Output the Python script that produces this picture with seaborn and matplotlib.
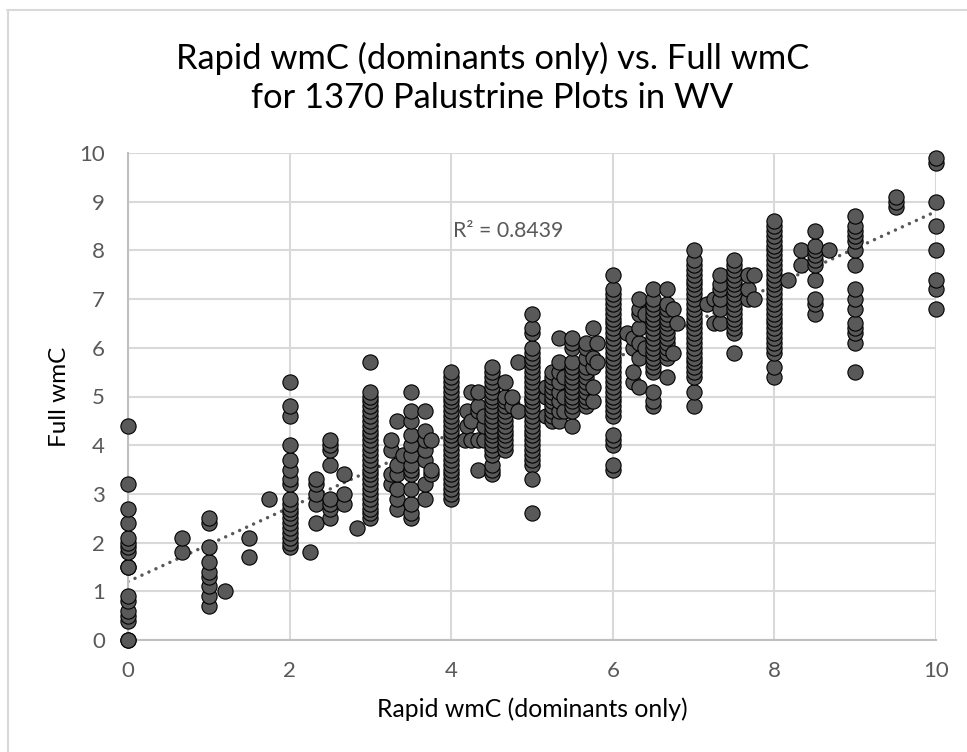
import numpy as np
import pandas as pd
import seaborn as sns
import matplotlib
matplotlib.use("Agg")
import matplotlib.pyplot as plt
from matplotlib.lines import Line2D

def r(a, b):
    # list of one-decimal wmC readings from a to b inclusive
    return [round(v / 10, 1) for v in range(int(a * 10 + .5), int(b * 10 + .5) + 1)]

columns = {
    0.0: [0, 0, .4, .5, .6, .8, .9, 1.5, 1.5, 1.8, 1.9, 2.0, 2.1, 2.4, 2.7, 3.2, 4.4],
    0.67: [1.8, 2.1],
    1.0: [.7, .9, 1.1, 1.3, 1.4, 1.6, 1.9, 2.4, 2.5],
    1.2: [1.0],
    1.5: [1.7, 2.1],
    1.75: [2.9],
    2.0: r(1.9, 2.9) + [3.2, 3.3, 3.5, 3.7, 4.0, 4.6, 4.8, 5.3],
    2.25: [1.8],
    2.33: [2.4, 2.8, 3.0, 3.2, 3.3],
    2.5: [2.5, 2.7, 2.8, 2.9, 3.6, 3.9, 4.0, 4.1],
    2.67: [2.8, 3.0, 3.4],
    2.83: [2.3],
    3.0: r(2.5, 5.1) + [5.7],
    3.25: [3.2, 3.4, 3.9, 4.1],
    3.33: [2.7, 2.9, 3.1, 3.4, 3.6, 4.5],
    3.4: [3.8],
    3.5: [2.5, 2.6, 2.8, 3.1, 3.4, 3.5, 3.6, 3.8, 4.0, 4.2, 4.5, 4.7, 5.1],
    3.67: [2.9, 3.2, 3.7, 3.9, 4.1, 4.3, 4.7],
    3.75: [3.4, 3.5, 4.1],
    4.0: r(2.9, 5.5),
    4.17: [4.1],
    4.2: [4.4, 4.7],
    4.25: [4.1, 4.5, 5.1],
    4.33: [3.5, 4.1, 4.7, 4.8, 5.1],
    4.4: [4.1, 4.4, 4.6],
    4.5: [3.4, 3.5, 3.6] + r(3.8, 5.6),
    4.67: r(3.9, 5.0) + [5.3],
    4.75: [4.8, 5.0],
    4.83: [4.7, 5.7],
    5.0: r(3.6, 6.0) + [2.6, 3.3, 6.3, 6.4, 6.7],
    5.17: [4.6, 5.0, 5.2],
    5.25: r(4.5, 5.5),
    5.33: [4.5, 4.7, 4.9, 5.1, 5.3, 5.5, 5.7, 6.2],
    5.4: [4.7, 5.0, 5.4],
    5.5: [4.4] + r(4.7, 5.7) + [6.0, 6.1, 6.2],
    5.67: r(4.8, 5.6) + [5.8, 6.0, 6.1],
    5.75: [4.9, 5.2, 5.6, 5.8, 6.4],
    5.8: [5.7, 6.1],
    6.0: [3.5, 3.6, 4.0, 4.1, 4.2] + r(4.6, 7.2) + [7.5],
    6.17: [6.3],
    6.25: [5.3, 5.5, 6.0, 6.2],
    6.33: [5.2, 5.8, 6.1, 6.4, 6.7, 6.8, 7.0],
    6.4: [6.0, 6.7],
    6.5: [4.8, 4.9, 5.1] + r(5.5, 7.0) + [7.2],
    6.67: [5.4] + r(5.8, 6.9) + [7.2],
    6.75: [5.9, 6.8],
    6.8: [6.5],
    7.0: [4.8, 5.1] + r(5.4, 7.7) + [7.8, 8.0],
    7.17: [6.9],
    7.25: [6.5, 7.0],
    7.33: [6.5, 6.8, 7.0, 7.2, 7.3, 7.5],
    7.5: [5.9] + r(6.3, 7.8),
    7.67: [7.0, 7.2, 7.5],
    7.75: [7.0, 7.5],
    8.0: [5.4, 5.6] + r(5.9, 8.6),
    8.17: [7.4],
    8.33: [7.7, 8.0],
    8.5: [6.7, 6.9, 7.0, 7.4, 7.7, 7.8, 7.9, 8.0, 8.1, 8.4],
    8.67: [8.0],
    9.0: [5.5, 6.1, 6.3, 6.4, 6.5, 6.8, 7.0, 7.2, 7.7, 8.0, 8.2, 8.3, 8.4, 8.5, 8.7],
    9.5: [8.9, 9.0, 9.1],
    10.0: [6.8, 7.2, 7.4, 8.0, 8.5, 9.0, 9.8, 9.9],
}

trend_x = [0, 10]
trend_y = [1.2, 8.8]

rapid = [x for x, ys in columns.items() for _ in ys]
full = [y for ys in columns.values() for y in ys]
df = pd.DataFrame({"rapid": rapid, "full": full})

title = "Rapid wmC (dominants only) vs. Full wmC\nfor 1370 Palustrine Plots in WV"
x_label = "Rapid wmC (dominants only)"
y_label = "Full wmC"
r2_label = "R² = 0.8439"
x_ticks = [0, 2, 4, 6, 8, 10]
y_ticks = list(range(0, 11))

sns.set_theme(style="whitegrid")
plt.rcParams["font.family"] = ["Lato", "DejaVu Sans"]

W, H = 967, 752
fig = plt.figure(figsize=(W / 100, H / 100), dpi=100, facecolor="white")
ax = fig.add_axes([128 / W, 1 - 640 / H, (936 - 128) / W, (640 - 153) / H])
ax.set_facecolor("white")

# the chart frame shows only along the top and left of the image
for xs, ys in (((7, W), (10, 10)), ((8, 8), (10, H))):
    fig.add_artist(Line2D([v / W for v in xs], [1 - v / H for v in ys],
                          transform=fig.transFigure, color="#d9d9d9", linewidth=1.5))

sns.lineplot(x=trend_x, y=trend_y, ax=ax, color="#595959", linewidth=2.5,
             linestyle=(0, (0.01, 2.2)), dash_capstyle="round", zorder=2,
             estimator=None, legend=False)
sns.scatterplot(data=df, x="rapid", y="full", ax=ax, s=120, color="#595959",
                edgecolor="black", linewidth=0.8, clip_on=False, zorder=3, legend=False)

ax.set_xlim(0, 10)
ax.set_ylim(0, 10)
ax.set_xticks(x_ticks)
ax.set_yticks(y_ticks)
ax.grid(True, color="#d9d9d9", linewidth=1.5)
ax.set_axisbelow(True)
for name, s in ax.spines.items():
    s.set_visible(name in ("left", "bottom"))
    s.set_color("#bfbfbf")
    s.set_linewidth(1.5)
ax.tick_params(axis="both", length=0, labelsize=16, labelcolor="#595959")
ax.tick_params(axis="x", pad=15)
ax.tick_params(axis="y", pad=16.5)
ax.set_xlabel(x_label, fontsize=17.8, color="black", va="center")
ax.xaxis.set_label_coords(0.5, -(709 - 640) / 487)
ax.set_ylabel(y_label, fontsize=17.5, color="black", va="center")
ax.yaxis.set_label_coords(-(128 - 59) / 808, 0.5)
ax.text(4.02, 8.4, r2_label, fontsize=15.3, color="#595959", va="center", ha="left", zorder=4)
fig.text(492.5 / W, 1 - 78 / H, title, fontsize=24.8, color="black", ha="center", va="center",
         linespacing=1.3)

fig.savefig("out.png", dpi=100)
